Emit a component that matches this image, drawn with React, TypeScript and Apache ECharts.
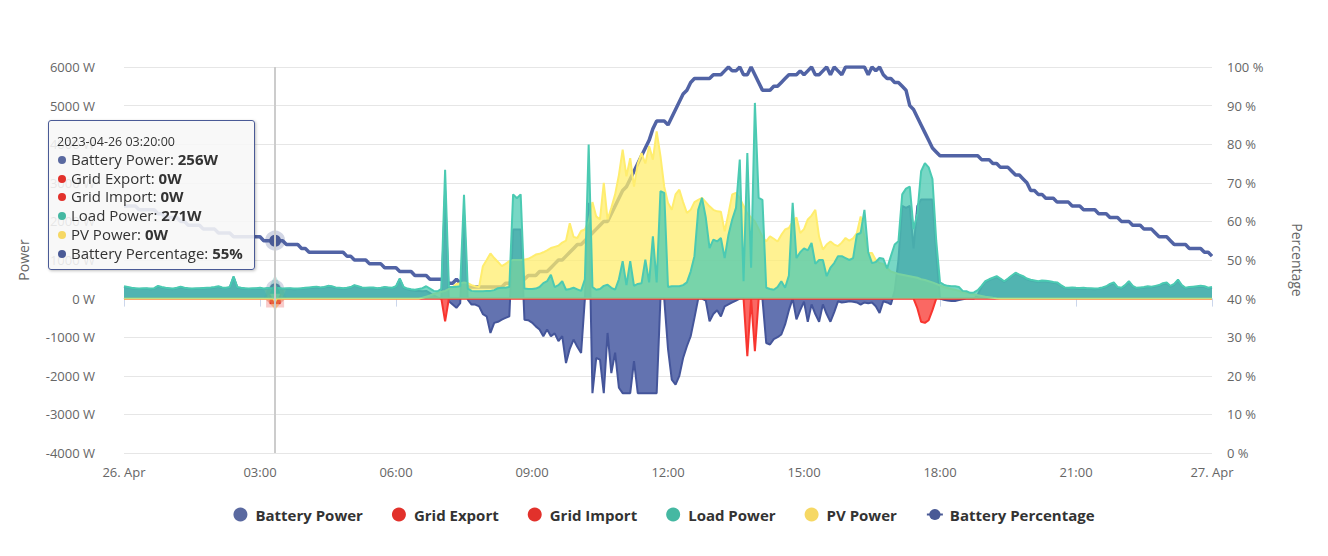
import React, { useEffect, useRef } from "react";
import * as echarts from "echarts";

const TICK_LABELS = ["26. Apr", "03:00", "06:00", "09:00", "12:00", "15:00", "18:00", "21:00", "27. Apr"];

// 5-minute samples, 2023-04-26 00:00 .. 2023-04-27 00:00
const BATTERY_POWER = [
  302, 284, 265, 255, 246, 250, 255, 245, 256, 312,
  284, 265, 255, 245, 265, 294, 265, 255, 246, 250,
  255, 260, 265, 270, 284, 304, 275, 265, 285, 560,
  285, 265, 255, 246, 250, 255, 265, 245, 260, 255,
  256, 260, 245, 250, 255, 245, 246, 255, 265, 275,
  284, 294, 275, 285, 314, 304, 275, 265, 255, 265,
  285, 333, 304, 275, 265, 270, 275, 255, 265, 285,
  275, 265, 304, 500, 285, 240, 215, 200, 200, 190,
  200, 140, 80, 30, 0, 2800, -70, -155, -240, -120,
  2200, -30, -155, -155, -200, -400, -460, -890, -630, -600,
  -545, -500, -460, 1790, 1790, 1790, -545, -560, -620, -720,
  -800, -975, -800, -975, -900, -1100, -975, -1670, -1300, -1060,
  -1250, -1410, 0, 2480, -2450, -1540, -1580, -2450, -890, -1930,
  -1400, -2310, -2450, -2450, -2450, -1620, -2450, -2450, -2450, -2450,
  -2450, -2450, 0, 0, -1300, -2100, -2230, -2000, -1540, -1235,
  -975, -500, 0, 0, -50, -590, -400, -300, -460, -200,
  -150, -100, -50, 0, 0, 0, 0, 0, 0, 0,
  -1150, -1190, -1050, -1000, -930, -670, -300, 0, -540, -300,
  -80, -600, -150, -400, -600, -150, -400, -600, -350, -70,
  -100, -90, -70, -80, -100, -155, -100, -120, -100, -200,
  -370, -70, -100, -150, 200, 1000, 2400, 2350, 2400, 1300,
  2400, 2565, 2565, 2565, 2565, 1200, 0, -30, -50, -60,
  -60, -40, -20, 0, 0, 0, 100, 300, 430, 480,
  520, 560, 500, 430, 500, 580, 650, 600, 560, 500,
  470, 450, 430, 450, 440, 430, 410, 400, 330, 272,
  262, 272, 262, 258, 262, 252, 248, 243, 252, 272,
  300, 360, 400, 282, 262, 330, 430, 310, 262, 272,
  282, 300, 292, 310, 330, 380, 400, 310, 360, 470,
  330, 262, 282, 292, 300, 310, 300, 262, 282,
];

const GRID_EXPORT = [
  0, 0, 0, 0, 0, 0, 0, 0, 0, 0,
  0, 0, 0, 0, 0, 0, 0, 0, 0, 0,
  0, 0, 0, 0, 0, 0, 0, 0, 0, 0,
  0, 0, 0, 0, 0, 0, 0, 0, 0, 0,
  0, 0, 0, 0, 0, 0, 0, 0, 0, 0,
  0, 0, 0, 0, 0, 0, 0, 0, 0, 0,
  0, 0, 0, 0, 0, 0, 0, 0, 0, 0,
  0, 0, 0, 0, 0, 0, 0, 0, 0, 0,
  0, 0, 0, 0, 0, -590, 0, 0, 0, 0,
  0, 0, 0, 0, 0, 0, 0, 0, 0, 0,
  0, 0, 0, 0, 0, 0, 0, 0, 0, 0,
  0, 0, 0, 0, 0, 0, 0, 0, 0, 0,
  0, 0, 0, 0, 0, 0, 0, 0, 0, 0,
  0, 0, 0, 0, 0, 0, 0, 0, 0, 0,
  0, 0, 0, 0, 0, 0, 0, 0, 0, 0,
  0, 0, 0, 0, 0, 0, 0, 0, 0, 0,
  0, 0, 0, 0, 0, -1490, 0, -1360, 0, 0,
  0, 0, 0, 0, 0, 0, 0, 0, 0, 0,
  0, 0, 0, 0, 0, 0, 0, 0, 0, 0,
  0, 0, 0, 0, 0, 0, 0, 0, 0, 0,
  0, 0, 0, 0, 0, 0, 0, 0, 0, 0,
  -250, -600, -630, -560, -300, 0, 0, 0, 0, 0,
  0, 0, 0, 0, 0, 0, 0, 0, 0, 0,
  0, 0, 0, 0, 0, 0, 0, 0, 0, 0,
  0, 0, 0, 0, 0, 0, 0, 0, 0, 0,
  0, 0, 0, 0, 0, 0, 0, 0, 0, 0,
  0, 0, 0, 0, 0, 0, 0, 0, 0, 0,
  0, 0, 0, 0, 0, 0, 0, 0, 0, 0,
  0, 0, 0, 0, 0, 0, 0, 0, 0,
];

const GRID_IMPORT = [
  0, 0, 0, 0, 0, 0, 0, 0, 0, 0,
  0, 0, 0, 0, 0, 0, 0, 0, 0, 0,
  0, 0, 0, 0, 0, 0, 0, 0, 0, 0,
  0, 0, 0, 0, 0, 0, 0, 0, 0, 0,
  0, 0, 0, 0, 0, 0, 0, 0, 0, 0,
  0, 0, 0, 0, 0, 0, 0, 0, 0, 0,
  0, 0, 0, 0, 0, 0, 0, 0, 0, 0,
  0, 0, 0, 0, 0, 0, 0, 0, 0, 0,
  0, 0, 0, 0, 0, 0, 0, 0, 0, 0,
  0, 0, 0, 0, 0, 0, 0, 0, 0, 0,
  0, 0, 0, 0, 0, 0, 0, 0, 0, 0,
  0, 0, 0, 0, 0, 0, 0, 0, 0, 0,
  0, 0, 0, 0, 0, 0, 0, 0, 0, 0,
  0, 0, 0, 0, 0, 0, 0, 0, 0, 0,
  0, 0, 0, 0, 0, 0, 0, 0, 0, 0,
  0, 0, 0, 0, 0, 0, 0, 0, 0, 0,
  0, 0, 0, 0, 0, 0, 0, 0, 0, 0,
  0, 0, 0, 0, 0, 0, 0, 0, 0, 0,
  0, 0, 0, 0, 0, 0, 0, 0, 0, 0,
  0, 0, 0, 0, 0, 0, 0, 0, 0, 0,
  0, 0, 0, 0, 0, 0, 0, 0, 0, 0,
  0, 0, 0, 0, 0, 0, 0, 0, 0, 0,
  0, 0, 0, 0, 0, 0, 0, 0, 0, 0,
  0, 0, 0, 0, 0, 0, 0, 0, 0, 0,
  0, 0, 0, 0, 0, 0, 0, 0, 0, 0,
  0, 0, 0, 0, 0, 0, 0, 0, 0, 0,
  0, 0, 0, 0, 0, 0, 0, 0, 0, 0,
  0, 0, 0, 0, 0, 0, 0, 0, 0, 0,
  0, 0, 0, 0, 0, 0, 0, 0, 0,
];

const LOAD_POWER = [
  320, 300, 280, 270, 260, 265, 270, 260, 270, 330,
  300, 280, 270, 260, 280, 310, 280, 270, 260, 265,
  270, 275, 280, 285, 300, 320, 290, 280, 300, 580,
  300, 280, 270, 260, 265, 270, 280, 260, 275, 270,
  271, 275, 260, 265, 270, 260, 260, 270, 280, 290,
  300, 310, 290, 300, 330, 320, 290, 280, 270, 280,
  300, 350, 320, 290, 280, 285, 290, 270, 280, 300,
  290, 280, 320, 520, 300, 260, 240, 230, 250, 270,
  320, 260, 200, 190, 250, 3340, 300, 300, 310, 320,
  2690, 260, 200, 190, 190, 190, 200, 200, 220, 270,
  280, 280, 300, 2700, 2600, 2700, 260, 250, 250, 260,
  300, 400, 450, 620, 300, 350, 450, 230, 250, 280,
  240, 200, 500, 3990, 300, 230, 250, 330, 360, 280,
  230, 500, 970, 350, 970, 330, 380, 400, 1010, 420,
  1610, 420, 2780, 2740, 300, 320, 320, 320, 350, 420,
  700, 1100, 2300, 2610, 2100, 1310, 1530, 1480, 1570, 1050,
  1650, 2050, 2350, 3600, 450, 3770, 800, 5070, 2610, 2560,
  280, 250, 230, 300, 450, 280, 600, 2480, 1050, 1200,
  1300, 1250, 1440, 900, 1000, 1000, 580, 800, 920, 1100,
  1100, 1050, 1000, 1050, 1660, 1700, 2300, 1200, 920, 950,
  1050, 1030, 780, 1100, 1400, 1485, 2700, 2850, 2900, 1800,
  2200, 3300, 3510, 3400, 3100, 1500, 420, 360, 330, 320,
  320, 300, 200, 190, 150, 160, 220, 330, 450, 500,
  540, 580, 520, 450, 520, 600, 670, 620, 580, 520,
  490, 470, 450, 470, 460, 450, 430, 420, 350, 290,
  280, 290, 280, 275, 280, 270, 265, 260, 270, 290,
  320, 380, 420, 300, 280, 350, 450, 330, 280, 290,
  300, 320, 310, 330, 350, 400, 420, 330, 380, 490,
  350, 280, 300, 310, 320, 330, 320, 280, 300,
];

const PV_POWER = [
  0, 0, 0, 0, 0, 0, 0, 0, 0, 0,
  0, 0, 0, 0, 0, 0, 0, 0, 0, 0,
  0, 0, 0, 0, 0, 0, 0, 0, 0, 0,
  0, 0, 0, 0, 0, 0, 0, 0, 0, 0,
  0, 0, 0, 0, 0, 0, 0, 0, 0, 0,
  0, 0, 0, 0, 0, 0, 0, 0, 0, 0,
  0, 0, 0, 0, 0, 0, 0, 0, 0, 0,
  0, 0, 0, 0, 0, 0, 0, 0, 5, 20,
  50, 80, 120, 150, 180, 200, 250, 300, 380, 400,
  420, 400, 350, 320, 300, 840, 1000, 1170, 1050, 950,
  840, 900, 970, 1000, 1000, 1000, 1010, 1030, 1080, 1140,
  1160, 1200, 1250, 1310, 1340, 1370, 1450, 1500, 1950, 1600,
  1570, 1750, 1790, 2000, 2500, 2130, 2050, 3000, 2050, 2350,
  2700, 3200, 3860, 3170, 3640, 2900, 3500, 3770, 3500, 3950,
  3600, 4330, 3700, 2900, 2480, 2300, 2700, 2820, 2500, 2220,
  2300, 2500, 2560, 2610, 2500, 2390, 2300, 2260, 2250, 1745,
  2200, 2700, 2740, 2600, 2400, 2200, 2100, 2000, 1800, 1600,
  1485, 1615, 1550, 1480, 1650, 1790, 1830, 2000, 2100, 1700,
  1800, 2050, 2150, 2300, 1600, 1270, 1400, 1480, 1400, 1360,
  1450, 1570, 1500, 1560, 1700, 2130, 1600, 1180, 1180, 1000,
  920, 900, 790, 700, 670, 640, 620, 600, 580, 560,
  540, 500, 480, 450, 420, 380, 340, 300, 275, 250,
  230, 200, 170, 150, 130, 110, 90, 70, 50, 35,
  20, 10, 5, 0, 0, 0, 0, 0, 0, 0,
  0, 0, 0, 0, 0, 0, 0, 0, 0, 0,
  0, 0, 0, 0, 0, 0, 0, 0, 0, 0,
  0, 0, 0, 0, 0, 0, 0, 0, 0, 0,
  0, 0, 0, 0, 0, 0, 0, 0, 0, 0,
  0, 0, 0, 0, 0, 0, 0, 0, 0,
];

const BATTERY_PERCENTAGE = [
  64, 64, 64, 64, 63, 63, 63, 63, 63, 62,
  62, 61, 61, 61, 61, 60, 60, 59, 59, 59,
  59, 58, 58, 58, 58, 57, 57, 57, 57, 56,
  56, 56, 56, 56, 56, 56, 56, 55, 55, 55,
  55, 55, 55, 54, 54, 54, 54, 53, 53, 52,
  52, 52, 52, 52, 52, 52, 52, 52, 52, 51,
  51, 50, 50, 50, 50, 49, 49, 49, 49, 48,
  48, 48, 48, 47, 47, 47, 47, 46, 46, 46,
  46, 45, 45, 45, 45, 44, 44, 44, 45, 44,
  44, 43, 43, 43, 43, 43, 43, 43, 43, 43,
  43, 44, 44, 45, 45, 45, 45, 46, 46, 46,
  47, 47, 47, 48, 49, 50, 50, 51, 52, 53,
  54, 54, 55, 56, 57, 58, 59, 60, 60, 62,
  64, 66, 68, 69, 71, 73, 75, 77, 79, 81,
  84, 86, 86, 86, 85, 87, 89, 91, 93, 94,
  96, 97, 97, 97, 97, 97, 98, 98, 98, 99,
  100, 99, 99, 100, 98, 98, 100, 98, 96, 94,
  94, 94, 95, 95, 96, 97, 98, 98, 98, 99,
  98, 99, 100, 98, 98, 99, 100, 98, 100, 99,
  98, 100, 100, 100, 100, 100, 100, 98, 100, 99,
  100, 98, 97, 97, 96, 96, 95, 94, 90, 89,
  87, 85, 83, 81, 79, 78, 77, 77, 77, 77,
  77, 77, 77, 77, 77, 77, 77, 76, 76, 76,
  75, 75, 74, 74, 74, 73, 72, 72, 71, 70,
  68, 68, 67, 67, 66, 66, 66, 65, 65, 65,
  65, 64, 64, 64, 63, 63, 63, 63, 62, 62,
  62, 61, 61, 61, 60, 60, 60, 59, 59, 59,
  58, 58, 58, 57, 56, 56, 56, 55, 54, 54,
  54, 54, 53, 53, 53, 53, 52, 52, 51,
];

const HOVER_INDEX = 40; // 03:20
const LABEL_STEP = 36; // 3 hours of 5-minute samples

const pad = (n: number) => (n < 10 ? "0" + n : "" + n);
const TIMES: string[] = BATTERY_POWER.map((_, i) => {
  const mins = i * 5;
  if (mins >= 1440) return "2023-04-27 00:00:00";
  return `2023-04-26 ${pad(Math.floor(mins / 60))}:${pad(mins % 60)}:00`;
});

const COLORS = {
  battery: "#5a69a0",
  batteryLine: "#3e4e8c",
  red: "#e2312b",
  load: "#45b8a2",
  pv: "#f6d864",
  pct: "#4a5a96",
};

const FONT = "'Open Sans', 'Noto Sans', sans-serif";

const LEGEND_ORDER = ["Battery Power", "Grid Export", "Grid Import", "Load Power", "PV Power", "Battery Percentage"];
const SERIES_COLOR: Record<string, string> = {
  "Battery Power": COLORS.battery,
  "Grid Export": COLORS.red,
  "Grid Import": COLORS.red,
  "Load Power": COLORS.load,
  "PV Power": COLORS.pv,
  "Battery Percentage": COLORS.pct,
};

export default function App() {
  const ref = useRef<HTMLDivElement>(null);
  useEffect(() => {
    document.body.style.margin = "0";
    if (!ref.current) return;
    const chart = echarts.init(ref.current, undefined, { renderer: "svg" });

    const areaSeries = (
      name: string,
      data: number[],
      color: string,
      lineColor: string,
      fillOpacity: number,
      symbol: string,
      halo: string,
      z: number
    ) => ({
      name,
      type: "line",
      data,
      yAxisIndex: 0,
      z,
      showSymbol: false,
      symbol,
      symbolSize: 11,
      itemStyle: { color },
      lineStyle: { color: lineColor, width: 2 },
      areaStyle: { color, opacity: fillOpacity },
      emphasis: {
        scale: false,
        lineStyle: { width: 2 },
        itemStyle: { borderColor: halo, borderWidth: 7 },
      },
    });

    const option: any = {
      animation: false,
      textStyle: { fontFamily: FONT },
      grid: { left: 124, right: 116, top: 67, bottom: 103, containLabel: false },
      legend: {
        left: "center",
        top: 502,
        itemWidth: 16,
        itemHeight: 14,
        itemGap: 29,
        textStyle: { fontSize: 15, fontWeight: "bold", color: "#333", fontFamily: FONT, padding: [0, 0, 0, 2] },
        data: [
          { name: "Battery Power", icon: "circle" },
          { name: "Grid Export", icon: "circle" },
          { name: "Grid Import", icon: "circle" },
          { name: "Load Power", icon: "circle" },
          { name: "PV Power", icon: "circle" },
          { name: "Battery Percentage" },
        ],
      },
      tooltip: {
        trigger: "axis",
        alwaysShowContent: true,
        position: () => [48, 120],
        backgroundColor: "rgba(247,247,247,0.88)",
        borderColor: COLORS.pct,
        borderWidth: 1,
        padding: [12, 11, 7, 8],
        extraCssText: "border-radius:3px;box-shadow:1px 1px 3px rgba(0,0,0,0.25);",
        textStyle: { fontFamily: FONT, fontSize: 15, color: "#333" },
        axisPointer: {
          type: "line",
          lineStyle: { color: "#cccccc", width: 2, type: "solid" },
          label: { show: false },
        },
        formatter: (params: any[]) => {
          const byName: Record<string, any> = {};
          params.forEach((p) => (byName[p.seriesName] = p));
          const time = params.length ? TIMES[params[0].dataIndex] : "";
          let html = `<div style="font-size:12.5px;line-height:17px">${time}</div>`;
          LEGEND_ORDER.forEach((n) => {
            const p = byName[n];
            if (!p) return;
            const unit = n === "Battery Percentage" ? "%" : "W";
            const c = SERIES_COLOR[n];
            html += `<div style="line-height:18.7px;white-space:nowrap"><span style="display:inline-block;width:8px;height:8px;border-radius:4px;background:${c};margin:0 5px 2px 1px;vertical-align:middle"></span>${n}: <b>${p.value}${unit}</b></div>`;
          });
          return html;
        },
      },
      xAxis: {
        type: "category",
        boundaryGap: false,
        data: TIMES,
        axisLine: { lineStyle: { color: "#ccd6eb", width: 1 } },
        axisTick: {
          show: true,
          length: 8,
          lineStyle: { color: "#ccd6eb" },
          interval: (i: number) => i % LABEL_STEP === 0,
        },
        axisLabel: {
          color: "#666",
          fontSize: 13,
          margin: 12,
          interval: (i: number) => i % LABEL_STEP === 0,
          formatter: (_v: string, i: number) => TICK_LABELS[Math.round(i / LABEL_STEP)] || "",
        },
        splitLine: { show: false },
      },
      yAxis: [
        {
          type: "value",
          min: -4000,
          max: 6000,
          interval: 1000,
          name: "Power",
          nameLocation: "middle",
          nameGap: 94,
          nameRotate: 90,
          nameTextStyle: { color: "#666", fontSize: 14 },
          axisLabel: { formatter: (v: number) => `${v} W`, color: "#666", fontSize: 13, margin: 29 },
          axisLine: { show: false },
          axisTick: { show: false },
          splitLine: { lineStyle: { color: "#e6e6e6", width: 1 } },
        },
        {
          type: "value",
          min: 0,
          max: 100,
          interval: 10,
          name: "Percentage",
          nameLocation: "middle",
          nameGap: 78,
          nameRotate: -90,
          nameTextStyle: { color: "#666", fontSize: 14 },
          axisLabel: { formatter: (v: number) => `${v} %`, color: "#666", fontSize: 13, margin: 15 },
          axisLine: { show: false },
          axisTick: { show: false },
          splitLine: { show: false },
        },
      ],
      series: [
        {
          name: "Battery Percentage",
          type: "line",
          yAxisIndex: 1,
          z: 2,
          data: BATTERY_PERCENTAGE,
          showSymbol: false,
          symbol: "circle",
          symbolSize: 12,
          itemStyle: { color: COLORS.pct },
          lineStyle: { color: COLORS.pct, width: 3.5 },
          emphasis: {
            scale: false,
            lineStyle: { width: 3.5 },
            itemStyle: { borderColor: "rgba(74,90,150,0.25)", borderWidth: 8 },
          },
        },
        areaSeries("Battery Power", BATTERY_POWER, COLORS.battery, COLORS.batteryLine, 1, "circle", "rgba(90,105,160,0.25)", 3),
        areaSeries("Grid Export", GRID_EXPORT, COLORS.red, COLORS.red, 0.75, "diamond", "rgba(240,140,90,0.5)", 4),
        areaSeries("Grid Import", GRID_IMPORT, COLORS.red, COLORS.red, 0.75, "rect", "rgba(226,49,43,0.25)", 4),
        areaSeries("PV Power", PV_POWER, COLORS.pv, COLORS.pv, 0.75, "path://M0,0 L10,0 L5,10 Z", "rgba(246,216,100,0.3)", 5),
        areaSeries("Load Power", LOAD_POWER, COLORS.load, COLORS.load, 0.75, "triangle", "rgba(69,184,162,0.3)", 6),
      ],
    };

    chart.setOption(option);
    chart.dispatchAction({ type: "showTip", seriesIndex: 1, dataIndex: HOVER_INDEX });

    return () => {
      chart.dispose();
    };
  }, []);

  return <div ref={ref} style={{ width: 1328, height: 556, background: "#fff" }} />;
}
